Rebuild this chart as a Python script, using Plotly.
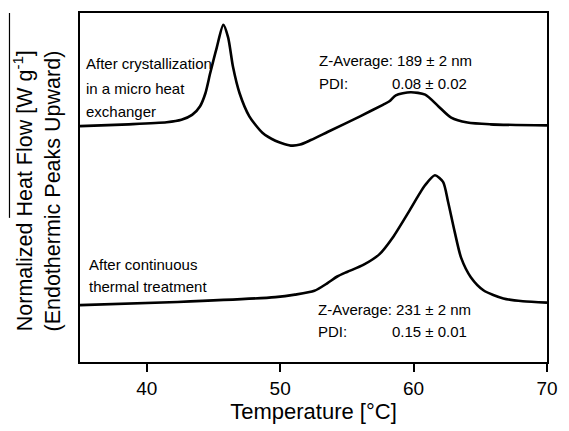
import plotly.graph_objects as go

# DSC traces (temperature in °C, normalized heat flow in arbitrary units, endotherm up)
temp_upper = [35, 38.66, 41.5, 42.6, 43.4, 44.0, 44.4, 44.76, 45.25, 45.74, 46.1, 46.47,
              46.96, 47.69, 48.67, 49.64, 50.3, 50.9, 51.5, 52.3, 53.55, 55.99, 57.7,
              58.19, 58.67, 59.77, 60.87, 61.85, 62.82, 64.04, 65.75, 70]
flow_upper = [6.76, 6.81, 6.87, 6.94, 7.08, 7.33, 7.70, 8.28, 9.01, 9.66, 9.30, 8.45,
              7.70, 7.04, 6.57, 6.34, 6.25, 6.20, 6.23, 6.36, 6.59, 7.04, 7.37,
              7.47, 7.64, 7.73, 7.66, 7.33, 7.00, 6.86, 6.81, 6.78]

temp_lower = [35, 42.32, 49.64, 51.11, 52.57, 53.55, 54.28, 55.01, 56.23, 57.45, 58.43,
              59.65, 60.38, 60.87, 61.6, 62.21, 62.58, 63.07, 63.56, 64.29, 65.26, 66.73,
              68.19, 70]
flow_lower = [1.63, 1.72, 1.86, 1.93, 2.04, 2.26, 2.45, 2.58, 2.78, 3.09, 3.56,
              4.31, 4.78, 5.07, 5.35, 5.16, 4.60, 3.75, 2.99, 2.43, 2.05, 1.82,
              1.74, 1.70]

x_ticks = [40, 50, 60, 70]

font = "Liberation Sans, Arial, sans-serif"

fig = go.Figure()
for xs, ys in [(temp_upper, flow_upper), (temp_lower, flow_lower)]:
    fig.add_trace(go.Scatter(x=xs, y=ys, mode="lines",
                             line=dict(color="black", width=2.6, shape="spline", smoothing=0.7),
                             showlegend=False, hoverinfo="skip"))

def label(x, y, text, size=15):
    fig.add_annotation(x=x, y=y, xref="x", yref="y", text=text, showarrow=False,
                       xanchor="left", yanchor="middle",
                       font=dict(family=font, size=size, color="black"))

# sample descriptions
label(35.29, 8.56, "After crystallization")
label(35.29, 7.85, "in a micro heat")
label(35.29, 7.18, "exchanger")
label(35.51, 2.80, "After continuous")
label(35.51, 2.15, "thermal treatment")

# particle size results
label(52.76, 8.64, "Z-Average: 189 ± 2 nm")
label(52.76, 7.99, "PDI:")
label(58.21, 7.99, "0.08 ± 0.02")
label(52.72, 1.50, "Z-Average: 231 ± 2 nm")
label(52.72, 0.88, "PDI:")
label(58.21, 0.88, "0.15 ± 0.01")

# two-line y-axis title, both lines starting at the same height
for xp, txt in [(-0.1213, "Normalized Heat Flow [W g<sup>-1</sup>]"),
                (-0.0586, "(Endothermic Peaks Upward)")]:
    fig.add_annotation(x=xp, y=0.082, xref="paper", yref="paper", text=txt,
                       textangle=-90, showarrow=False, xanchor="center", yanchor="bottom",
                       font=dict(family=font, size=21.5, color="black"))

# overline above the first title line
fig.add_shape(type="line", xref="paper", yref="paper",
              x0=-0.151, x1=-0.151, y0=0.413, y1=1.0,
              line=dict(color="black", width=1.2))

fig.update_layout(
    width=569, height=431,
    margin=dict(l=80, r=11, t=12, b=65),
    paper_bgcolor="white", plot_bgcolor="white",
    font=dict(family=font, color="black"),
    xaxis=dict(range=[35, 70], tickvals=x_ticks, ticks="outside", ticklen=8,
               tickwidth=1.5, tickcolor="black", showline=True, linecolor="black",
               linewidth=1.5, mirror=True, showgrid=False, zeroline=False,
               tickfont=dict(family=font, size=19, color="black"),
               title=dict(text="Temperature [°C]", standoff=6,
                          font=dict(family=font, size=22, color="black"))),
    yaxis=dict(range=[0, 10], showticklabels=False, ticks="", showline=True,
               linecolor="black", linewidth=1.5, mirror=True, showgrid=False,
               zeroline=False),
)

fig.write_html("out.html")
